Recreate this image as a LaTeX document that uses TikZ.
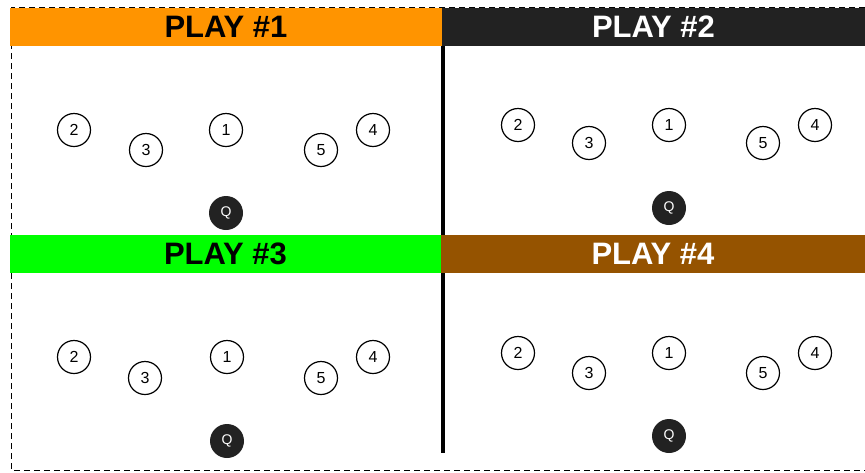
\documentclass[tikz,border=0pt]{standalone}
\usepackage{fontspec}
\setmainfont{Liberation Sans}
\usepackage{tikz}
\usetikzlibrary{positioning}

\definecolor{playorange}{RGB}{255,148,0}
\definecolor{playdark}{RGB}{34,34,34}
\definecolor{playgreen}{RGB}{0,255,0}
\definecolor{playbrown}{RGB}{149,83,0}

\begin{document}
\begin{tikzpicture}[x=1pt, y=-1pt,
    head/.style={rectangle, minimum width=432pt, minimum height=38pt, inner sep=0pt, font=\fontsize{31}{31}\selectfont\bfseries},
    player/.style={circle, draw, line width=1.2pt, minimum size=33pt, inner sep=0pt, fill=white, font=\fontsize{16}{16}\selectfont},
    qb/.style={circle, fill=playdark, minimum size=34pt, inner sep=0pt, text=white, font=\fontsize{14}{14}\selectfont}]
    \useasboundingbox (0,0) rectangle (865,472);
    % outer frame
    \coordinate (tl) at (11,7);
    \coordinate (tr) at (865,7);
    \coordinate (bl) at (11,470);
    \coordinate (br) at (865,470);
    \draw [dash pattern=on 6pt off 4pt, line width=0.8pt] (tr) -- (tl) -- (bl) -- (br);
    % middle line
    \coordinate (mtop) at (443,8);
    \coordinate (mbot) at (443,453);
    \draw [line width=3.5pt] (mtop) -- (mbot);
    % headers
    \node [head, fill=playorange, text=black, minimum width=432pt] (h1) at (226,27) {PLAY \#1};
    \node [head, fill=playdark, text=white, minimum width=423pt] (h2) at (653.5,27) {PLAY \#2};
    \node [head, fill=playgreen, text=black, minimum width=431pt] (h3) at (225.5,254) {PLAY \#3};
    \node [head, fill=playbrown, text=white, minimum width=424pt] (h4) at (653,254) {PLAY \#4};

    % play 1
    \node [player] (a2) at (74,130) {2};
    \node [player] (a3) at (146,150) {3};
    \node [player] (a1) at (226,130) {1};
    \node [player] (a5) at (321,150) {5};
    \node [player] (a4) at (373,130) {4};
    \node [qb] (aq) at (226,213) {Q};

    % play 2
    \node [player] (b2) at (518,125) {2};
    \node [player] (b3) at (589,143) {3};
    \node [player] (b1) at (669,125) {1};
    \node [player] (b5) at (763,143) {5};
    \node [player] (b4) at (815,125) {4};
    \node [qb] (bq) at (669,208) {Q};

    % play 3
    \node [player] (c2) at (74,357) {2};
    \node [player] (c3) at (145,378) {3};
    \node [player] (c1) at (227,357) {1};
    \node [player] (c5) at (321,378) {5};
    \node [player] (c4) at (373,357) {4};
    \node [qb] (cq) at (227,441) {Q};

    % play 4
    \node [player] (d2) at (518,353) {2};
    \node [player] (d3) at (589,373) {3};
    \node [player] (d1) at (669,353) {1};
    \node [player] (d5) at (763,373) {5};
    \node [player] (d4) at (815,353) {4};
    \node [qb] (dq) at (669,436) {Q};
\end{tikzpicture}
\end{document}
